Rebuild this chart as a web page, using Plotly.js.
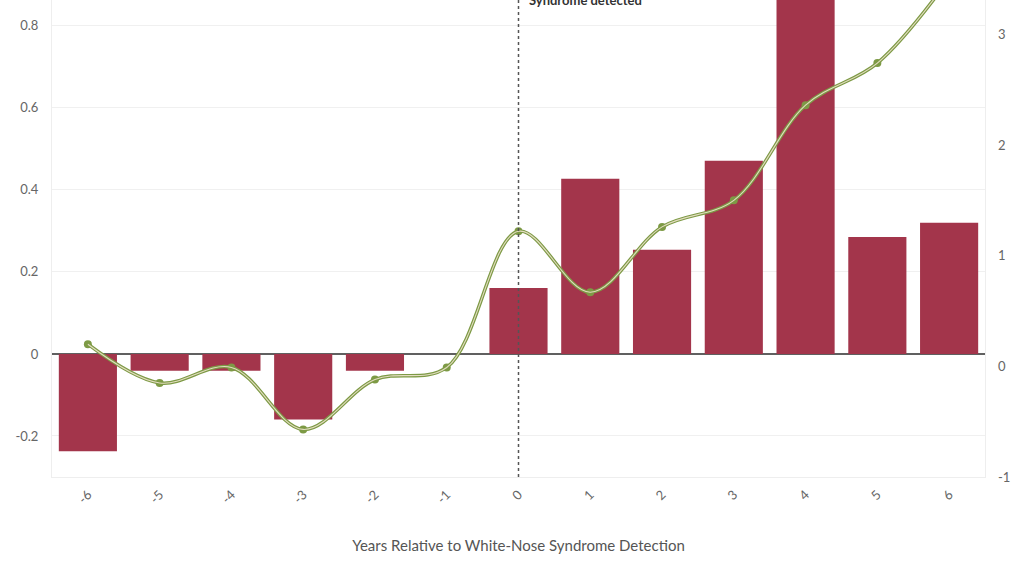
<!DOCTYPE html>
<html>
<head>
<meta charset="utf-8">
<script src="https://cdn.plot.ly/plotly-3.0.1.min.js"></script>
<style>
  html, body { margin: 0; padding: 0; background: #fff; }
  #plot { width: 1024px; height: 576px; }
</style>
</head>
<body>
<div id="plot"></div>
<script>
// years relative to detection
const years = [-6, -5, -4, -3, -2, -1, 0, 1, 2, 3, 4, 5, 6];
// bar series (left axis)
const barValues = [-0.237, -0.041, -0.041, -0.16, -0.041, 0, 0.161, 0.427, 0.254, 0.471, 0.87, 0.285, 0.32];
// line series (right axis)
const lineValues = [0.2, -0.15, -0.01, -0.57, -0.12, -0.01, 1.22, 0.67, 1.26, 1.5, 2.36, 2.74, 3.5];

const leftTicks = [-0.2, 0, 0.2, 0.4, 0.6, 0.8];
const rightTicks = [-1, 0, 1, 2, 3];

const barTrace = {
    type: 'bar',
    x: years,
    y: barValues,
    marker: { color: '#a3354b' },
    hoverinfo: 'skip',
    showlegend: false
};

const lineOuter = {
    type: 'scatter',
    mode: 'lines+markers',
    x: years,
    y: lineValues,
    yaxis: 'y2',
    line: { color: '#7d9a45', width: 3.5, shape: 'spline', smoothing: 1 },
    marker: { color: '#7d9a45', size: 8 },
    showlegend: false
};

const lineInner = {
    type: 'scatter',
    mode: 'lines',
    x: years,
    y: lineValues,
    yaxis: 'y2',
    line: { color: '#e3dcc0', width: 1.1, shape: 'spline', smoothing: 1 },
    hoverinfo: 'skip',
    showlegend: false
};

const fontFam = 'Lato, "Open Sans", sans-serif';

const layout = {
    width: 1024,
    height: 576,
    margin: { l: 52, r: 39, t: 0, b: 99 },
    paper_bgcolor: '#ffffff',
    plot_bgcolor: '#ffffff',
    bargap: 0.19,
    font: { family: fontFam, color: '#666', size: 13 },
    xaxis: {
        type: 'linear',
        range: [-6.5, 6.5],
        tickvals: years,
        ticktext: years.map(String),
        tickangle: -45,
        showgrid: false,
        zeroline: false,
        showline: true,
        linecolor: '#eeeeee',
        linewidth: 1,
        mirror: true,
        ticklabelstandoff: 4,
        title: { text: 'Years Relative to White-Nose Syndrome Detection', font: { size: 15, color: '#555' }, standoff: 34 }
    },
    yaxis: {
        range: [-0.3, 0.863],
        tickvals: leftTicks,
        ticktext: leftTicks.map(String),
        gridcolor: '#f0f0f0',
        zeroline: true,
        zerolinecolor: '#606060',
        zerolinewidth: 2,
        showline: true,
        linecolor: '#eeeeee',
        mirror: true,
        ticklabelstandoff: 10
    },
    yaxis2: {
        overlaying: 'y',
        side: 'right',
        range: [-1, 3.31],
        tickvals: rightTicks,
        ticktext: rightTicks.map(String),
        showgrid: false,
        zeroline: false,
        ticklabelstandoff: 12
    },
    shapes: [{
        type: 'line',
        xref: 'x', yref: 'paper',
        x0: 0, x1: 0, y0: 0, y1: 1,
        line: { color: '#555', width: 1.5, dash: 'dot' },
        layer: 'above'
    }],
    annotations: [{
        xref: 'x', yref: 'paper',
        x: 0.12, y: 1.0,
        xanchor: 'left', yanchor: 'middle',
        text: '<b>Syndrome detected</b>',
        showarrow: false,
        font: { size: 13, color: '#333' }
    }]
};

Plotly.newPlot('plot', [barTrace, lineOuter, lineInner], layout, { displayModeBar: false, staticPlot: true });
</script>
</body>
</html>
